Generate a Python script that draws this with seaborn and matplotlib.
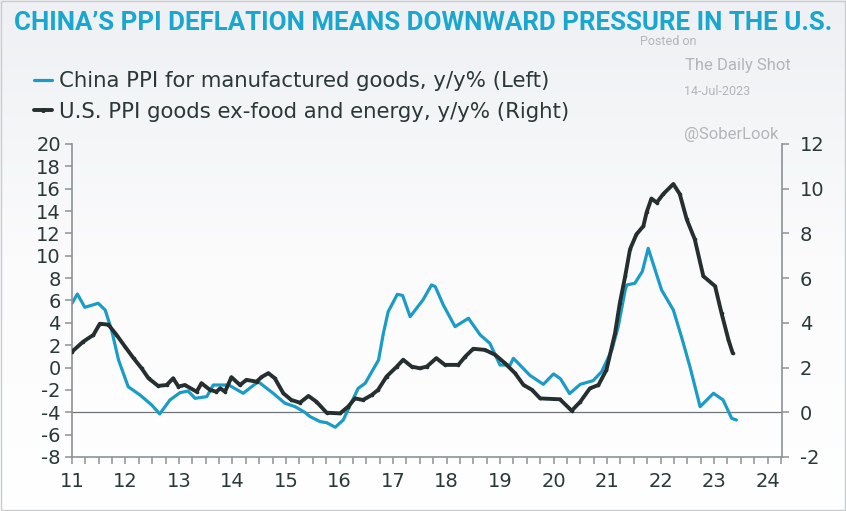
import numpy as np
import pandas as pd
import matplotlib
matplotlib.use("Agg")
import matplotlib.pyplot as plt
from matplotlib.lines import Line2D
import seaborn as sns

# China PPI for manufactured goods, y/y% (left axis)
china_x = [2011.0, 2011.1, 2011.24, 2011.49, 2011.62, 2011.74, 2011.87, 2012.05, 2012.27, 2012.49,
           2012.64, 2012.83, 2013.02, 2013.17, 2013.30, 2013.52, 2013.64, 2013.93, 2014.20, 2014.48,
           2014.76, 2014.98, 2015.17, 2015.35, 2015.45, 2015.64, 2015.76, 2015.92, 2016.07, 2016.23,
           2016.35, 2016.48, 2016.73, 2016.82, 2016.91, 2017.08, 2017.18, 2017.32, 2017.44, 2017.56,
           2017.72, 2017.79, 2017.94, 2018.16, 2018.41, 2018.63, 2018.81, 2019.0, 2019.19, 2019.25,
           2019.56, 2019.81, 2020.0, 2020.13, 2020.30, 2020.50, 2020.74, 2020.90, 2021.09, 2021.21,
           2021.34, 2021.37, 2021.52, 2021.66, 2021.77, 2021.90, 2022.02, 2022.24, 2022.40, 2022.55,
           2022.74, 2022.99, 2023.17, 2023.33, 2023.42]
china_y = [5.75, 6.58, 5.39, 5.75, 5.15, 3.36, 0.68, -1.71, -2.45, -3.35,
           -4.15, -2.9, -2.24, -2.1, -2.75, -2.6, -1.56, -1.56, -2.3, -1.26,
           -2.3, -3.19, -3.5, -4.0, -4.39, -4.84, -4.93, -5.34, -4.69, -3.05,
           -1.85, -1.41, 0.68, 3.07, 5.0, 6.55, 6.45, 4.55, 5.3, 6.05,
           7.39, 7.24, 5.6, 3.66, 4.41, 2.92, 2.17, 0.23, 0.23, 0.83,
           -0.7, -1.5, -0.57, -1.0, -2.33, -1.5, -1.17, -0.37, 1.57, 3.66,
           6.94, 7.39, 7.54, 8.6, 10.67, 8.73, 6.94, 5.15, 2.62, 0.08,
           -3.5, -2.3, -2.9, -4.54, -4.69]

# U.S. PPI goods ex-food and energy, y/y% (right axis)
us_x = [2011.0, 2011.21, 2011.40, 2011.52, 2011.68, 2011.83, 2011.99, 2012.15, 2012.30, 2012.43,
        2012.61, 2012.77, 2012.89, 2012.99, 2013.11, 2013.33, 2013.42, 2013.58, 2013.70, 2013.77,
        2013.86, 2013.98, 2014.14, 2014.26, 2014.45, 2014.54, 2014.67, 2014.79, 2014.95, 2015.10,
        2015.26, 2015.42, 2015.57, 2015.76, 2016.01, 2016.16, 2016.29, 2016.44, 2016.60, 2016.72,
        2016.88, 2017.07, 2017.19, 2017.35, 2017.50, 2017.63, 2017.81, 2017.97, 2018.22, 2018.35,
        2018.50, 2018.72, 2018.91, 2019.09, 2019.28, 2019.44, 2019.60, 2019.75, 2020.12, 2020.34,
        2020.50, 2020.68, 2020.84, 2020.99, 2021.15, 2021.24, 2021.34, 2021.43, 2021.55, 2021.68,
        2021.74, 2021.83, 2021.93, 2022.05, 2022.24, 2022.36, 2022.49, 2022.64, 2022.80, 2023.02,
        2023.14, 2023.27, 2023.35]
us_y = [2.71, 3.16, 3.46, 3.96, 3.92, 3.47, 2.94, 2.42, 1.97, 1.52,
        1.18, 1.22, 1.52, 1.15, 1.22, 0.92, 1.30, 1.0, 0.92, 1.07,
        0.92, 1.57, 1.22, 1.45, 1.37, 1.57, 1.75, 1.52, 0.85, 0.55,
        0.43, 0.73, 0.47, -0.02, -0.05, 0.25, 0.62, 0.55, 0.77, 1.0,
        1.6, 2.04, 2.35, 2.04, 1.97, 2.04, 2.42, 2.12, 2.12, 2.49,
        2.84, 2.79, 2.57, 2.20, 1.75, 1.22, 1.0, 0.62, 0.58, 0.07,
        0.47, 1.07, 1.22, 1.90, 3.54, 4.89, 6.09, 7.29, 7.96, 8.33,
        8.94, 9.56, 9.38, 9.76, 10.21, 9.76, 8.63, 7.74, 6.09, 5.64,
        4.44, 3.24, 2.64]

left_ticks = list(range(-8, 21, 2))
right_ticks = list(range(-2, 13, 2))
year_ticks = list(range(2011, 2025))
year_labels = [str(y)[2:] for y in year_ticks]

title_text = "CHINA\u2019S PPI DEFLATION MEANS DOWNWARD PRESSURE IN THE U.S."
china_label = "China PPI for manufactured goods, y/y% (Left)"
us_label = "U.S. PPI goods ex-food and energy, y/y% (Right)"

china_col = "#1b9cc6"
us_col = "#252f30"
txt_col = "#2b3838"
axis_col = "#8d9296"

sns.set_style("white")
plt.rcParams["font.family"] = ["DejaVu Sans"]
plt.rcParams["axes.unicode_minus"] = False

df_cn = pd.DataFrame({"date": china_x, "value": china_y})
df_us = pd.DataFrame({"date": us_x, "value": us_y})

fig = plt.figure(figsize=(8.46, 5.11), dpi=100)

# background gradient
bg = fig.add_axes([0, 0, 1, 1], zorder=-10)
grad = np.linspace(0, 1, 256).reshape(-1, 1)
cmap = matplotlib.colors.LinearSegmentedColormap.from_list("bg", ["#ffffff", "#fbfbfc", "#eef0f3"])
bg.imshow(grad, aspect="auto", cmap=cmap, origin="lower", extent=[0, 1, 0, 1])
bg.axis("off")
bg.add_patch(plt.Rectangle((0.001, 0.001), 0.998, 0.997, fill=False, ec="#c9cccf", lw=1))

ax = fig.add_axes([0.0851, 0.1057, 0.8392, 0.6125])
ax.patch.set_alpha(0)
ax2 = ax.twinx()

sns.lineplot(data=df_cn, x="date", y="value", ax=ax, color=china_col, lw=2.3)
sns.lineplot(data=df_us, x="date", y="value", ax=ax2, color=us_col, lw=2.8,
             marker="o", markersize=2.6, markeredgewidth=0)

ax.axhline(-4, color="#6f7478", lw=0.9, zorder=0)

ax.set_xlim(2011.0, 2024.27)
ax.set_ylim(-8, 20)
ax2.set_ylim(-2, 12)
ax.set_yticks(left_ticks)
ax2.set_yticks(right_ticks)
ax.set_xticks(year_ticks)
ax.set_xticklabels(year_labels)
ax.set_xticks(np.arange(2011, 2024.3, 0.25), minor=True)
ax.set_xlabel("")
ax.set_ylabel("")
ax2.set_ylabel("")

for a in (ax, ax2):
    for s in a.spines.values():
        s.set_visible(False)
ax.spines["left"].set_visible(True)
ax.spines["bottom"].set_visible(True)
ax2.spines["right"].set_visible(True)
for s in (ax.spines["left"], ax.spines["bottom"], ax2.spines["right"]):
    s.set_color(axis_col)
    s.set_linewidth(1.2)

ax.tick_params(axis="y", which="major", length=5, width=1.1, color=axis_col,
               labelsize=14, labelcolor=txt_col, pad=3, left=True)
ax.tick_params(axis="x", which="both", length=5, width=1.1, color=axis_col, bottom=True)
ax.tick_params(axis="x", which="major", labelsize=14, labelcolor=txt_col, pad=6)
ax2.tick_params(axis="y", length=5, width=1.1, color=axis_col, labelsize=14,
                labelcolor=txt_col, pad=8, right=True)

fig.text(0.016, 0.955, title_text, color="#1aa7cf", fontsize=18.6, fontweight="bold",
         family=["Roboto", "DejaVu Sans"], va="center", ha="left")

handles = [Line2D([], [], color=china_col, lw=2.3),
           Line2D([], [], color=us_col, lw=2.8, marker="o", markersize=2.6)]
fig.legend(handles, [china_label, us_label], loc="upper left", bbox_to_anchor=(0.018, 0.898),
           frameon=False, handlelength=0.85, handletextpad=0.3, labelspacing=0.5,
           prop={"family": ["DejaVu Sans"], "size": 15.3},
           labelcolor=txt_col)

wm = "#b3b6b9"
fig.text(0.79, 0.918, "Posted on", color=wm, fontsize=9, ha="center", va="center",
         family=["Roboto", "DejaVu Sans"])
fig.text(0.872, 0.872, "The Daily Shot", color=wm, fontsize=12, ha="center", va="center",
         family=["Roboto", "DejaVu Sans"])
fig.text(0.848, 0.821, "14-Jul-2023", color=wm, fontsize=9, ha="center", va="center",
         family=["Roboto", "DejaVu Sans"])
fig.text(0.864, 0.737, "@SoberLook", color=wm, fontsize=12, ha="center", va="center",
         family=["Roboto", "DejaVu Sans"])

fig.savefig("out.png", dpi=100)
